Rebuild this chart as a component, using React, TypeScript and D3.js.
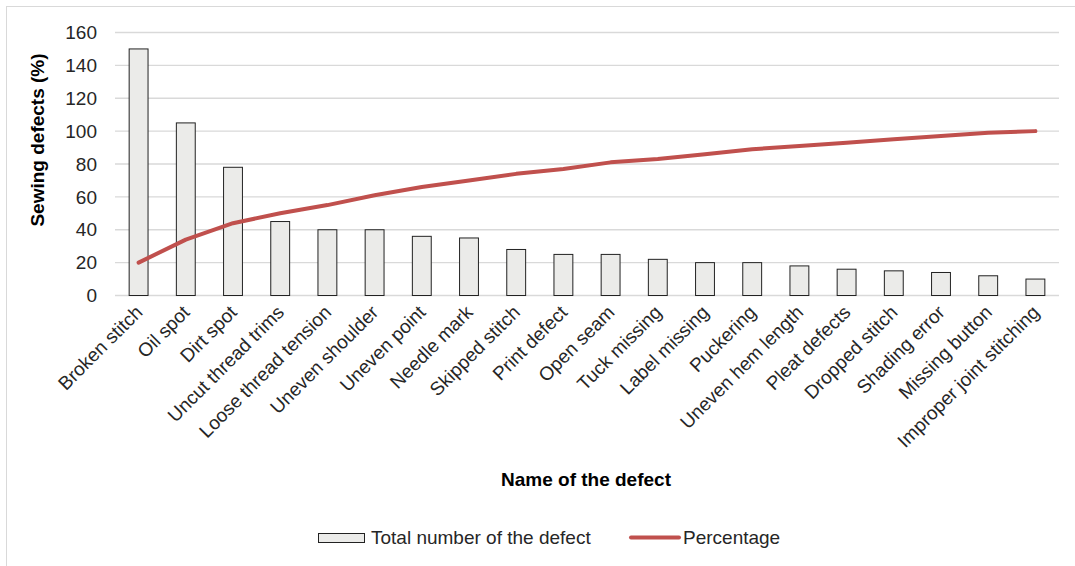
import React, { useEffect, useRef } from "react";
import * as d3 from "d3";

const categories = [
  "Broken stitch",
  "Oil spot",
  "Dirt spot",
  "Uncut thread trims",
  "Loose thread tension",
  "Uneven shoulder",
  "Uneven point",
  "Needle mark",
  "Skipped stitch",
  "Print defect",
  "Open seam",
  "Tuck missing",
  "Label missing",
  "Puckering",
  "Uneven hem length",
  "Pleat defects",
  "Dropped stitch",
  "Shading error",
  "Missing button",
  "Improper joint stitching",
];
const totals = [150, 105, 78, 45, 40, 40, 36, 35, 28, 25, 25, 22, 20, 20, 18, 16, 15, 14, 12, 10];
const percentages = [20, 34, 44, 50, 55, 61, 66, 70, 74, 77, 81, 83, 86, 89, 91, 93, 95, 97, 99, 100];
const yTicks = [0, 20, 40, 60, 80, 100, 120, 140, 160];

const FONT = "'Liberation Sans', Arial, sans-serif";
const FS = 19;

function App() {
  const svgRef = useRef<SVGSVGElement>(null);

  useEffect(() => {
    const svg = d3.select(svgRef.current);
    svg.selectAll("*").remove();

    const left = 115,
      right = 1059,
      top = 32.5,
      bottom = 295.5;

    // chart border
    svg
      .append("rect")
      .attr("x", 6.5)
      .attr("y", 6.5)
      .attr("width", 1075)
      .attr("height", 566)
      .attr("fill", "none")
      .attr("stroke", "#d9d9d9");

    const x = d3.scaleBand().domain(categories).range([left, right]).paddingInner(0.6).paddingOuter(0.3);
    const xc = (c: string) => (x(c) as number) + x.bandwidth() / 2;
    const y = d3.scaleLinear().domain([0, 160]).range([bottom, top]);

    // grid
    svg
      .append("g")
      .selectAll("line")
      .data(yTicks)
      .enter()
      .append("line")
      .attr("x1", left)
      .attr("x2", right)
      .attr("y1", (d) => y(d))
      .attr("y2", (d) => y(d))
      .attr("stroke", "#d9d9d9")
      .attr("stroke-width", 1.3);

    // y labels
    svg
      .append("g")
      .selectAll("text")
      .data(yTicks)
      .enter()
      .append("text")
      .attr("x", 97)
      .attr("y", (d) => y(d))
      .attr("dy", "0.35em")
      .attr("text-anchor", "end")
      .attr("font-family", FONT)
      .attr("font-size", FS)
      .attr("fill", "#262626")
      .text((d) => d);

    // bars
    svg
      .append("g")
      .selectAll("rect")
      .data(categories)
      .enter()
      .append("rect")
      .attr("x", (d) => x(d) as number)
      .attr("y", (d, i) => y(totals[i]))
      .attr("width", x.bandwidth())
      .attr("height", (d, i) => y(0) - y(totals[i]))
      .attr("fill", "#ebebe9")
      .attr("stroke", "#222")
      .attr("stroke-width", 1);

    // cumulative line
    const line = d3
      .line<number>()
      .x((d, i) => xc(categories[i]))
      .y((d) => y(d));
    svg
      .append("path")
      .datum(percentages)
      .attr("d", line)
      .attr("fill", "none")
      .attr("stroke", "#c0504d")
      .attr("stroke-width", 4)
      .attr("stroke-linecap", "round")
      .attr("stroke-linejoin", "round");

    // x labels
    svg
      .append("g")
      .selectAll("text")
      .data(categories)
      .enter()
      .append("text")
      .attr("transform", (d) => `translate(${xc(d) + 5},${bottom + 18}) rotate(-45)`)
      .attr("text-anchor", "end")
      .attr("font-family", FONT)
      .attr("font-size", FS)
      .attr("fill", "#262626")
      .text((d) => d);

    // axis titles
    svg
      .append("text")
      .attr("transform", `translate(44,140) rotate(-90)`)
      .attr("text-anchor", "middle")
      .attr("font-family", FONT)
      .attr("font-size", FS)
      .attr("font-weight", "bold")
      .attr("fill", "#000")
      .text("Sewing defects (%)");

    svg
      .append("text")
      .attr("x", 586)
      .attr("y", 486)
      .attr("text-anchor", "middle")
      .attr("font-family", FONT)
      .attr("font-size", FS)
      .attr("font-weight", "bold")
      .attr("fill", "#000")
      .text("Name of the defect");

    // legend
    const lg = svg.append("g");
    lg.append("rect")
      .attr("x", 318.5)
      .attr("y", 533.5)
      .attr("width", 46)
      .attr("height", 9)
      .attr("fill", "#ebebe9")
      .attr("stroke", "#222");
    lg.append("text")
      .attr("x", 371)
      .attr("y", 544)
      .attr("font-family", FONT)
      .attr("font-size", FS)
      .attr("fill", "#262626")
      .text("Total number of the defect");
    lg.append("line")
      .attr("x1", 631)
      .attr("x2", 679)
      .attr("y1", 537.5)
      .attr("y2", 537.5)
      .attr("stroke", "#c0504d")
      .attr("stroke-width", 4)
      .attr("stroke-linecap", "round");
    lg.append("text")
      .attr("x", 683)
      .attr("y", 544)
      .attr("font-family", FONT)
      .attr("font-size", FS)
      .attr("fill", "#262626")
      .text("Percentage");
  }, []);

  return (
    <svg
      ref={svgRef}
      width={1075}
      height={566}
      style={{ position: "absolute", left: 0, top: 0, background: "#fff" }}
    ></svg>
  );
}

export default App;
